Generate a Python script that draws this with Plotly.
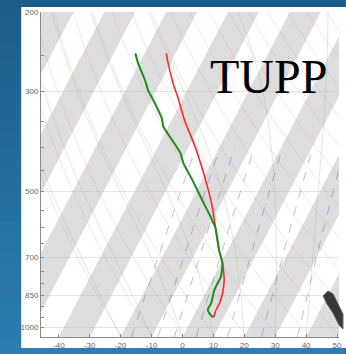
import numpy as np
import plotly.graph_objects as go

# ---------------- data ----------------
pres_temp = [247, 260, 288, 313, 347, 398, 471, 540, 603, 674, 720, 754, 785, 840, 884, 915, 938, 950]
temp_c = [-53.0, -50.7, -45.7, -41.2, -35.9, -27.9, -19.0, -12.3, -7.6, -2.8, 0.5, 2.4, 3.9, 5.6, 6.3, 6.3, 6.6, 6.7]

pres_dewp = [247, 260, 283, 298, 319, 344, 359, 384, 411, 433, 471, 522, 578, 603, 674, 720,
             772, 798, 826, 855, 884, 915, 930, 950]
dewp_c = [-63.0, -60.4, -55.4, -52.7, -48.2, -43.5, -41.6, -36.6, -31.6, -28.9, -23.3, -16.7,
          -10.1, -7.6, -2.8, 0.5, 2.3, 2.3, 2.4, 3.0, 3.6, 3.6, 4.7, 6.5]

x_ticks = [-40, -30, -20, -10, 0, 10, 20, 30, 40, 50]
p_ticks = list(range(200, 1001, 50))
p_labels = [200, 300, 500, 700, 850, 1000]
band_starts = [-120, -100, -80, -60, -40, -20, 0, 20, 40]     # gray isotherm bands (10 deg wide)
dry_thetas = list(range(250, 471, 10))                          # K
moist_starts = [-20, -10, 0, 10, 20, 30, 40]                    # deg C at 1050 hPa
mix_ratios = [1, 2, 3, 5, 10, 20, 40]                           # g/kg
station = "TUPP"

# ---------------- skew-T geometry ----------------
SKEW = 33.0
P_BOT = 1050.0
P_TOP = 200.0
X_MIN, X_MAX = -45.77, 50.64


def skx(t, p):
    return np.asarray(t, float) + SKEW * np.log(P_BOT / np.asarray(p, float))


# figure pixel -> paper helpers (plot area l=41, r=342, t=12, b=337)
L, R, T, B = 41, 342, 12, 337
W, H = 346, 354


def px(xp):
    return (xp - L) / (R - L)


def py(yp):
    return (B - yp) / (B - T)


fig = go.Figure()

# gray isotherm bands
pb = np.array([P_BOT, P_BOT, P_TOP, P_TOP, P_BOT])
for t0 in band_starts:
    tt = np.array([t0, t0 + 10, t0 + 10, t0, t0], float)
    fig.add_trace(go.Scatter(x=skx(tt, pb), y=pb, mode="lines", fill="toself",
                             fillcolor="#dddddd", line=dict(width=0), hoverinfo="skip",
                             showlegend=False))

plev = np.exp(np.linspace(np.log(P_BOT), np.log(P_TOP), 80))

# isobars
for p in [300, 500, 700, 850, 1000]:
    fig.add_trace(go.Scatter(x=[X_MIN, X_MAX], y=[p, p], mode="lines",
                             line=dict(color="rgba(190,190,190,0.5)", width=0.8),
                             hoverinfo="skip", showlegend=False))

# dry adiabats
for th in dry_thetas:
    tc = th * (plev / 1000.0) ** 0.286 - 273.15
    fig.add_trace(go.Scatter(x=skx(tc, plev), y=plev, mode="lines",
                             line=dict(color="rgba(240,120,120,0.3)", width=0.7),
                             hoverinfo="skip", showlegend=False))


# moist adiabats
def es(tc):
    return 6.112 * np.exp(17.67 * tc / (tc + 243.5))


def moist(t0):
    Rd, cp, Lv, eps = 287.0, 1004.0, 2.5e6, 0.622
    out = [t0]
    t = t0 + 273.15
    for i in range(1, len(plev)):
        p0, p1 = plev[i - 1], plev[i]
        n = 10
        dp = (p1 - p0) / n
        p = p0
        for _ in range(n):
            rs = eps * es(t - 273.15) / (p - es(t - 273.15))
            dtdp = (Rd * t + Lv * rs) / (cp + Lv * Lv * rs * eps / (Rd * t * t)) / p
            t += dtdp * dp
            p += dp
        out.append(t - 273.15)
    return np.array(out)


for t0 in moist_starts:
    fig.add_trace(go.Scatter(x=skx(moist(t0), plev), y=plev, mode="lines",
                             line=dict(color="rgba(110,200,110,0.4)", width=0.7),
                             hoverinfo="skip", showlegend=False))

# mixing ratio lines
pm = np.exp(np.linspace(np.log(P_BOT), np.log(400), 30))
for w in mix_ratios:
    e = w * pm / (622.0 + w)
    lnr = np.log(e / 6.112)
    td = 243.5 * lnr / (17.67 - lnr)
    fig.add_trace(go.Scatter(x=skx(td, pm), y=pm, mode="lines",
                             line=dict(color="rgba(90,90,200,0.5)", width=0.8, dash="dash"),
                             hoverinfo="skip", showlegend=False))

# sounding
fig.add_trace(go.Scatter(x=skx(temp_c, pres_temp), y=pres_temp, mode="lines",
                         line=dict(color="#ff2a2a", width=1.6, shape="spline", smoothing=0.6),
                         showlegend=False))
fig.add_trace(go.Scatter(x=skx(dewp_c, pres_dewp), y=pres_dewp, mode="lines",
                         line=dict(color="#1e8c1e", width=2, shape="spline", smoothing=0.4),
                         showlegend=False))

# ---------------- background decoration ----------------
shapes = []
c_top = np.array([28, 92, 138])
c_bot = np.array([44, 126, 180])
n = 24
for i in range(n):
    y0p = i * H / n
    y1p = (i + 1) * H / n
    c = c_top + (c_bot - c_top) * (i + 0.5) / n
    shapes.append(dict(type="rect", xref="paper", yref="paper", layer="below",
                       x0=px(-2), x1=px(W + 2), y0=py(y1p + 1), y1=py(y0p),
                       fillcolor="rgb(%d,%d,%d)" % tuple(c), line=dict(width=0)))
shapes.append(dict(type="rect", xref="paper", yref="paper", layer="below",
                   x0=px(21), x1=px(W + 5), y0=py(348), y1=py(7),
                   fillcolor="white", line=dict(width=0)))
# wind barbs cluster (partially cut at right edge)
barb = [(326, 296), (331, 291), (336, 294), (341, 304), (346, 314), (346, 329),
        (342, 325), (336, 313), (330, 304)]
path = "M " + " L ".join("%f,%f" % (px(a), py(b)) for a, b in barb) + " Z"
shapes.append(dict(type="path", xref="paper", yref="paper", path=path, opacity=0.85,
                   fillcolor="#1a1a1a", line=dict(color="#444444", width=1)))

fig.update_layout(
    width=W, height=H,
    margin=dict(l=L, r=W - R, t=T, b=H - B),
    paper_bgcolor="rgb(34,104,152)",
    plot_bgcolor="white",
    shapes=shapes,
    annotations=[dict(text=station, xref="paper", yref="paper", x=px(271), y=py(77),
                      xanchor="center", yanchor="middle", showarrow=False,
                      font=dict(family="Liberation Serif", size=48, color="black"))],
    xaxis=dict(range=[X_MIN, X_MAX], tickvals=x_ticks, ticktext=[str(v) for v in x_ticks],
               showgrid=False, zeroline=False, showline=True, linecolor="#8a8a8a",
               linewidth=1, ticks="inside", ticklen=3, tickcolor="#8a8a8a",
               tickfont=dict(family="Liberation Sans", size=8, color="#666666")),
    yaxis=dict(type="log", range=[np.log10(P_BOT), np.log10(P_TOP)],
               tickvals=p_ticks,
               ticktext=[str(p) if p in p_labels else "" for p in p_ticks],
               showgrid=False, zeroline=False, showline=True, linecolor="#8a8a8a",
               linewidth=1, ticks="inside", ticklen=3, tickcolor="#8a8a8a",
               tickfont=dict(family="Liberation Sans", size=8, color="#666666")),
)

fig.write_html("out.html")
